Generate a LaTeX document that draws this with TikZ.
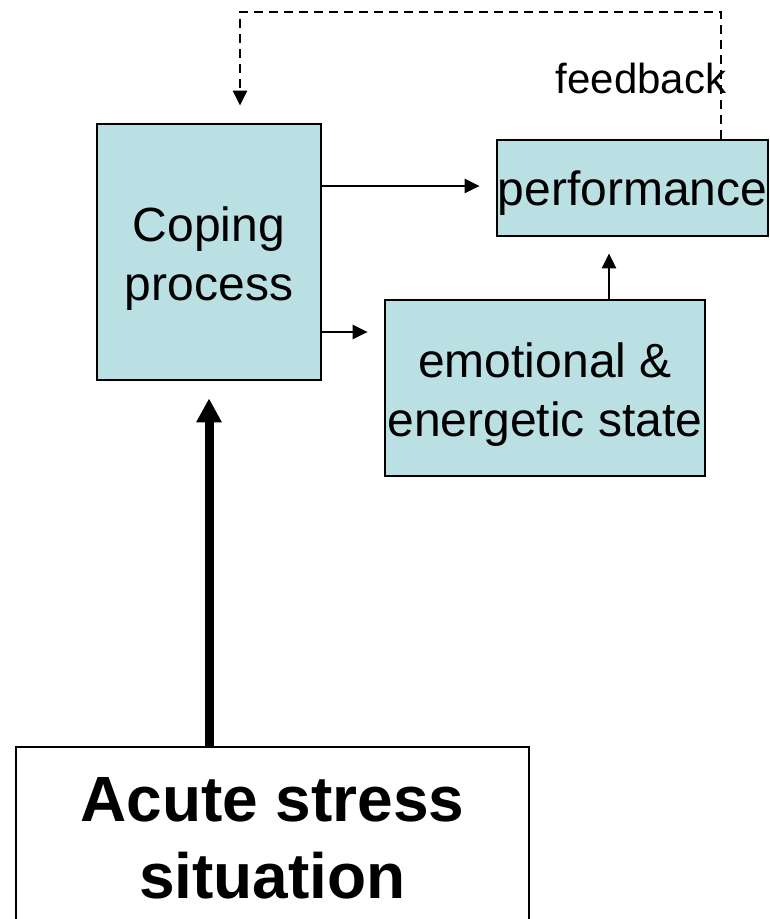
\documentclass[tikz,border=0pt]{standalone}
\usepackage{fontspec}
\setmainfont{Liberation Sans}
\usetikzlibrary{arrows.meta,calc}
\definecolor{boxfill}{HTML}{BBE0E3}
\begin{document}
\begin{tikzpicture}[x=1pt,y=-1pt,
  bluebox/.style={draw=black,line width=2.7pt,fill=boxfill,inner sep=0pt},
  boxtext/.style={inner sep=0pt,align=center,font=\fontsize{48}{59}\selectfont},
  thinarrow/.style={line width=2.6pt,-{Triangle[length=15pt,width=14pt]}},
  thickarrow/.style={line width=9pt,-{Triangle[length=24pt,width=24pt]}},
  fbline/.style={line width=2.6pt,dash pattern=on 9pt off 6pt,-{Triangle[length=15pt,width=14pt]}}]
\useasboundingbox (0,0) rectangle (769,919);
\node[bluebox,minimum width=224pt,minimum height=256pt] (coping) at (209,252) {};
\node[boxtext] (copingtxt) at (209,259) {Coping\\process};
\node[bluebox,minimum width=271pt,minimum height=96pt] (perf) at (632.5,188) {};
\node[boxtext] (perftxt) at (632.5,193) {performance};
\node[bluebox,minimum width=320pt,minimum height=176pt] (emo) at (545,388) {};
\node[boxtext] (emotxt) at (545,395) {emotional \&\\energetic state};
\node[draw=black,line width=2.7pt,fill=white,inner sep=0pt,align=center,
  minimum width=513pt,minimum height=183pt,
  font=\fontsize{64}{77}\selectfont\bfseries] (acute) at (272.5,838.5) {Acute stress\\situation};
\node[font=\fontsize{42}{50}\selectfont,inner sep=0pt] (fb) at (641,78) {feedback};
% connectors
\draw[thickarrow] (acute.north -| coping.south) -- ([yshift=-17pt]coping.south);
\coordinate (c1) at (coping.east |- 0,186);
\coordinate (p1) at (perf.west |- 0,186);
\draw[thinarrow] (c1) -- ([xshift=-16pt]p1);
\coordinate (c2) at (coping.east |- 0,332);
\coordinate (e2) at (emo.west |- 0,332);
\draw[thinarrow] (c2) -- ([xshift=-16pt]e2);
\coordinate (e3) at (emo.north -| 609,0);
\coordinate (p3) at (perf.south -| 609,0);
\draw[thinarrow] (e3) -- ([yshift=-16pt]p3);
\coordinate (p4) at (perf.north -| 721,0);
\coordinate (t1) at (721,12);
\coordinate (t2) at (240,12);
\coordinate (k4) at (coping.north -| 240,0);
\draw[fbline] (p4) -- (t1) -- (t2) -- ([yshift=17pt]k4);
\end{tikzpicture}
\end{document}
